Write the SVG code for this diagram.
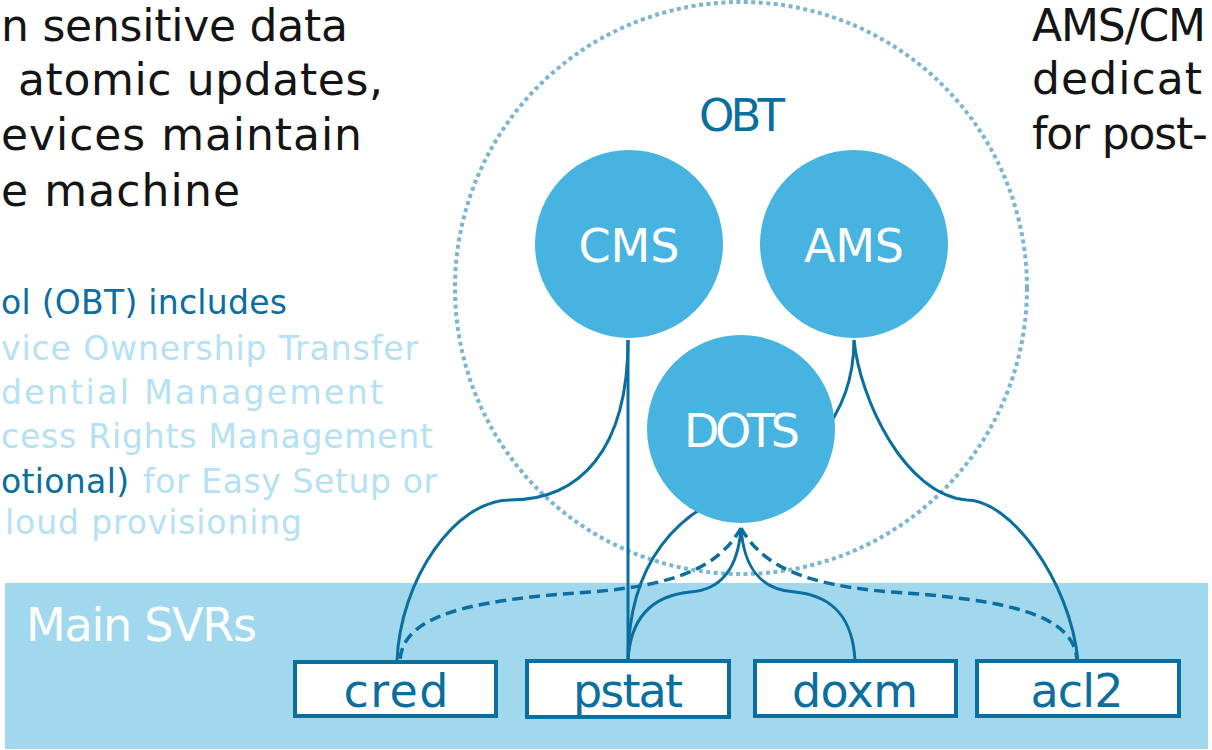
<svg xmlns="http://www.w3.org/2000/svg" width="1212" height="750" viewBox="0 0 1212 750">
<style>
text{font-family:"DejaVu Sans","Liberation Sans",sans-serif}
.blk{font-size:44px;fill:#141414}
.mid{font-size:33px}
.lt{fill:#b4e1f4}
.dk{fill:#0a6e9e}
.node{fill:#47b3e1}
.nlab{fill:#fff;font-size:46px;text-anchor:middle}
.box{fill:#fff;stroke:#0a6e9e;stroke-width:4}
.blab{fill:#0a6e9e;font-size:46px;text-anchor:middle}
.ed{fill:none;stroke:#0a6e9e;stroke-width:3;stroke-linecap:butt}
.dash{stroke-width:3.5;stroke-dasharray:11 6}
.obt{fill:none;stroke:#7ab6d2;stroke-width:4;stroke-dasharray:4 3.5}
</style>
<rect x="0" y="0" width="1212" height="750" fill="#fff"/>
<rect id="band" x="5" y="583" width="1203" height="166" fill="#a1d8ee"/>
<text x="26" y="641" font-size="46" fill="#fff" textLength="231">Main SVRs</text>

<text class="blk" x="1" y="41" textLength="347">n sensitive data</text>
<text class="blk" x="18" y="95" textLength="365">atomic updates,</text>
<text class="blk" x="1" y="150" textLength="361">evices maintain</text>
<text class="blk" x="1" y="206" textLength="239">e machine</text>

<text class="blk" x="1032" y="41" textLength="174">AMS/CM</text>
<text class="blk" x="1032" y="94" textLength="170">dedicat</text>
<text class="blk" x="1032" y="149" textLength="176">for post-</text>

<text class="mid dk" x="1" y="314" textLength="286">ol (OBT) includes</text>
<text class="mid lt" x="1" y="360" textLength="417">vice Ownership Transfer</text>
<text class="mid lt" x="1" y="404" textLength="382">dential Management</text>
<text class="mid lt" x="1" y="448" textLength="432">cess Rights Management</text>
<text class="mid dk" x="1" y="493" textLength="128">otional)</text>
<text class="mid lt" x="143" y="493" textLength="294">for Easy Setup or</text>
<text class="mid lt" x="5" y="534" textLength="297">loud provisioning</text>

<g id="OBT">
<circle class="obt" cx="741" cy="288" r="286"/>
<text x="742" y="131" font-size="45" fill="#0a6e9e" text-anchor="middle" textLength="86">OBT</text>
</g>

<g id="connectors">
<path class="ed" d="M628,340 L628,661"/>
<path class="ed" d="M628,340 C628,450 580,500 510,500 C455,500 400,580 397,661"/>
<path class="ed" d="M854,340 C854,420 800,470 741,490 C680,510 628,560 628,661"/>
<path class="ed" d="M854,340 C860,400 905,495 967,500 C1010,500 1070,580 1078,661"/>
<path class="ed" d="M741,528 C738,570 720,590 690,592 C650,596 630,620 628,661"/>
<path class="ed" d="M741,528 C744,570 762,590 795,592 C835,596 853,620 855,661"/>
<path class="ed dash" d="M741,528 C720,565 680,585 590,592 C470,600 402,615 400,661"/>
<path class="ed dash" d="M741,528 C762,565 802,585 892,592 C1010,600 1075,615 1077,661"/>
</g>

<g id="CMS">
<circle class="node" cx="629" cy="244" r="94"/>
<text class="nlab" x="629" y="262" textLength="101">CMS</text>
</g>
<g id="AMS">
<circle class="node" cx="854" cy="244" r="94"/>
<text class="nlab" x="854" y="262" textLength="100">AMS</text>
</g>
<g id="DOTS">
<circle class="node" cx="741" cy="429" r="94"/>
<text class="nlab" x="742" y="447" font-size="44" textLength="116">DOTS</text>
</g>

<g id="cred">
<rect class="box" x="295" y="662" width="201" height="54"/>
<text class="blab" x="396" y="707" textLength="105">cred</text>
</g>
<g id="pstat">
<rect class="box" x="527" y="661" width="202" height="56"/>
<text class="blab" x="628" y="707" textLength="110">pstat</text>
</g>
<g id="doxm">
<rect class="box" x="755" y="661" width="201" height="55"/>
<text class="blab" x="855" y="707" textLength="126">doxm</text>
</g>
<g id="acl2">
<rect class="box" x="977" y="661" width="202" height="55"/>
<text class="blab" x="1077" y="707" textLength="93">acl2</text>
</g>
</svg>
